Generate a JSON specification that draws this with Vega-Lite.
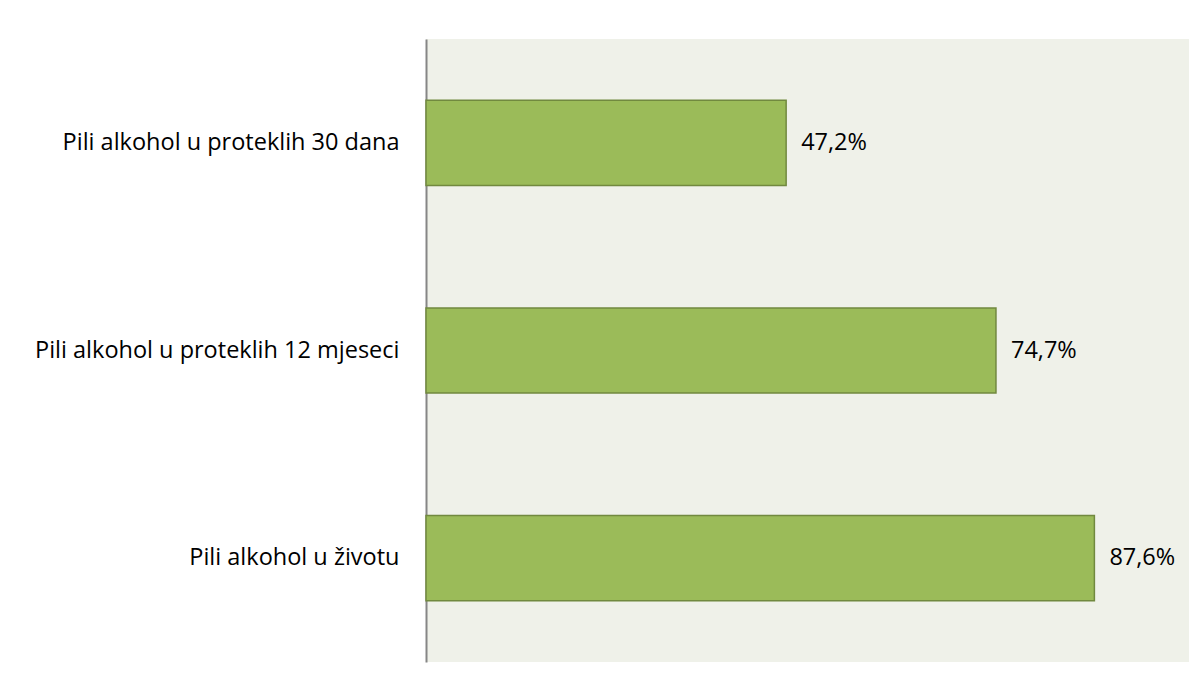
{
  "$schema": "https://vega.github.io/schema/vega-lite/v6.json",
  "width": 763,
  "height": 623,
  "autosize": {"type": "none"},
  "padding": {"left": 426, "top": 39, "right": 14, "bottom": 23},
  "background": "#ffffff",
  "config": {
    "view": {"fill": "#EFF1E9", "stroke": null},
    "font": "Open Sans"
  },
  "data": {
    "values": [
      {"category": "Pili alkohol u proteklih 30 dana", "value": 47.2, "label": "47,2%"},
      {"category": "Pili alkohol u proteklih 12 mjeseci", "value": 74.7, "label": "74,7%"},
      {"category": "Pili alkohol u životu", "value": 87.6, "label": "87,6%"}
    ]
  },
  "encoding": {
    "y": {
      "field": "category",
      "type": "nominal",
      "sort": null,
      "scale": {"paddingInner": 0.59, "paddingOuter": 0.295},
      "axis": {
        "title": null,
        "ticks": false,
        "domainColor": "#868686",
        "domainWidth": 2,
        "labelFontSize": 23.5,
        "labelColor": "#000000",
        "labelPadding": 27,
        "labelFont": "Open Sans",
        "labelLimit": 500
      }
    },
    "x": {
      "field": "value",
      "type": "quantitative",
      "scale": {"domain": [0, 100]},
      "axis": null
    }
  },
  "layer": [
    {
      "mark": {"type": "bar", "fill": "#9BBB59", "stroke": "#71893F", "strokeWidth": 1.5}
    },
    {
      "mark": {"type": "text", "align": "left", "baseline": "middle", "dx": 15, "fontSize": 23.5, "color": "#000000"},
      "encoding": {"text": {"field": "label"}}
    }
  ]
}
